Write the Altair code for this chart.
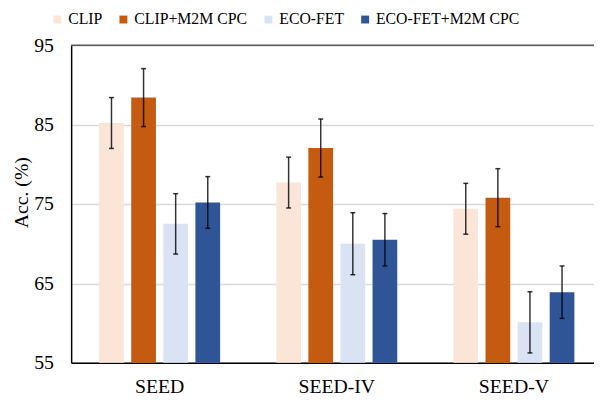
import altair as alt
import pandas as pd

datasets = ["SEED", "SEED-IV", "SEED-V"]
methods = ["CLIP", "CLIP+M2M CPC", "ECO-FET", "ECO-FET+M2M CPC"]
colors = ["#FBE5D6", "#C55A11", "#DAE3F3", "#2F5597"]

acc = {
    "CLIP": [85.2, 77.7, 74.4],
    "CLIP+M2M CPC": [88.4, 82.05, 75.8],
    "ECO-FET": [72.5, 70.0, 60.1],
    "ECO-FET+M2M CPC": [75.2, 70.5, 63.9],
}
err = {
    "CLIP": [3.2, 3.2, 3.2],
    "CLIP+M2M CPC": [3.65, 3.65, 3.65],
    "ECO-FET": [3.8, 3.9, 3.85],
    "ECO-FET+M2M CPC": [3.25, 3.3, 3.3],
}
y_ticks = [55, 65, 75, 85, 95]

rows = []
for m in methods:
    for i, d in enumerate(datasets):
        rows.append({
            "dataset": d, "method": m, "acc": acc[m][i],
            "lo": acc[m][i] - err[m][i], "hi": acc[m][i] + err[m][i],
        })
df = pd.DataFrame(rows)

FONT = "Liberation Serif"

x = alt.X("dataset:N", sort=datasets, title=None,
          scale=alt.Scale(range=[0, 538.5], paddingInner=0.317, paddingOuter=0.158),
          axis=alt.Axis(labelAngle=0, labelFontSize=20, labelFont=FONT, labelColor="#000",
                        labelPadding=14, ticks=False, domainColor="#000", domainWidth=1.5))
xo = alt.XOffset("method:N", sort=methods,
                 scale=alt.Scale(paddingInner=0.23, paddingOuter=0))
yscale = alt.Scale(domain=[55, 95], nice=False)

base = alt.Chart(df)

bars = base.mark_bar(clip=True).encode(
    x=x, xOffset=xo,
    y=alt.Y("acc:Q", scale=yscale, title="Acc. (%)",
            axis=alt.Axis(values=y_ticks, labelFontSize=20, labelFont=FONT, labelColor="#000",
                          labelPadding=18, ticks=False, domainColor="#000", domainWidth=1.5,
                          grid=True, gridColor="#d9d9d9", gridWidth=1.5,
                          titleFont=FONT, titleFontSize=20, titleFontWeight="normal",
                          titleColor="#000", titleAngle=-90, titleX=-50, titleY=149,
                          titleAlign="center", titleBaseline="middle")),
    color=alt.Color("method:N", sort=methods,
                    scale=alt.Scale(domain=methods, range=colors),
                    legend=alt.Legend(title=None, orient="none", direction="horizontal",
                                      legendX=-22, legendY=-34, symbolType="square",
                                      symbolSize=64, symbolStrokeWidth=0,
                                      labelFont=FONT, labelFontSize=16, labelColor="#000",
                                      labelOffset=3, columnPadding=13)),
)

errs = base.mark_rule(color="#000", strokeWidth=1.5, opacity=0.8).encode(
    x=alt.X("dataset:N", sort=datasets), xOffset=alt.XOffset("method:N", sort=methods),
    y="lo:Q", y2="hi:Q",
)
cap_lo = base.mark_tick(color="#000", size=5, thickness=1.5, opacity=0.8).encode(
    x=alt.X("dataset:N", sort=datasets), xOffset=alt.XOffset("method:N", sort=methods),
    y="lo:Q",
)
cap_hi = base.mark_tick(color="#000", size=5, thickness=1.5, opacity=0.8).encode(
    x=alt.X("dataset:N", sort=datasets), xOffset=alt.XOffset("method:N", sort=methods),
    y="hi:Q",
)
top = alt.Chart(pd.DataFrame({"v": [max(y_ticks)]})).mark_rule(
    color="#595959", strokeWidth=1.5
).encode(y=alt.Y("v:Q"))

chart = alt.layer(bars, errs, cap_lo, cap_hi, top).properties(
    width=530, height=322,
    autosize=alt.AutoSizeParams(type="none"),
    padding={"left": 64, "top": 35, "right": 0, "bottom": 37},
).configure_view(stroke=None).configure(background="white")

chart.save("out.html", embed_options={"renderer": "svg", "actions": False})
